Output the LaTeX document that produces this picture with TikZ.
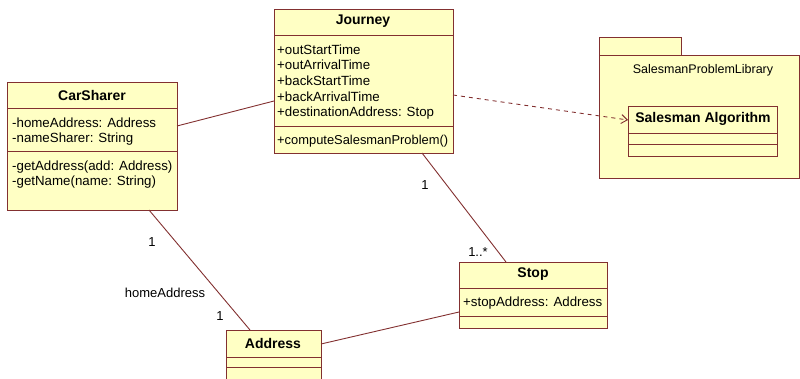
\documentclass[tikz,border=0pt]{standalone}
\usepackage{fontspec}
\setmainfont{Liberation Sans}
\usetikzlibrary{arrows.meta,calc}
\definecolor{umlfill}{RGB}{255,255,196}
\definecolor{umlline}{RGB}{130,48,48}
\begin{document}
\begin{tikzpicture}[x=1pt,y=-1pt,
 box/.style={draw=umlline, fill=umlfill, line width=0.9pt, inner sep=0pt, outer sep=0pt, anchor=north west},
 sep/.style={draw=umlline, line width=0.9pt},
 txt/.style={inner sep=0pt, anchor=north west, align=left, font=\fontsize{13.3}{15.6}\selectfont},
 ttl/.style={inner sep=0pt, font=\fontsize{14}{15.6}\selectfont\bfseries},
 lnk/.style={draw=umlline, line width=0.9pt},
 lbl/.style={inner sep=0pt, font=\fontsize{13}{15.6}\selectfont}]
\useasboundingbox (0,0) rectangle (800,379);
% CarSharer
\node[box, minimum width=170pt, minimum height=128pt] (car) at (7,82) {};
\draw[sep] (7,108) -- (177,108);
\draw[sep] (7,151) -- (177,151);
\node[ttl] (carT) at (92,95) {CarSharer};
\node[txt] (carA) at (12,117.5) {-homeAddress: Address\\-nameSharer: String};
\node[txt] (carO) at (12,160.5) {-getAddress(add: Address)\\-getName(name: String)};
% Journey
\node[box, minimum width=179pt, minimum height=144pt] (jour) at (274,9) {};
\draw[sep] (274,35) -- (453,35);
\draw[sep] (274,126) -- (453,126);
\node[ttl] (jourT) at (363,21) {Journey};
\node[txt] (jourA) at (277,44.5) {+outStartTime\\+outArrivalTime\\+backStartTime\\+backArrivalTime\\+destinationAddress: Stop};
\node[txt, font=\fontsize{12.9}{15.6}\selectfont] (jourO) at (277,134.5) {+computeSalesmanProblem()};
% Package
\node[box, minimum width=82pt, minimum height=18pt] (pkgtab) at (599,37) {};
\node[box, minimum width=200pt, minimum height=123pt] (pkg) at (599,55) {};
\node[lbl, font=\fontsize{12.5}{15}\selectfont] (pkgT) at (703,70) {SalesmanProblemLibrary};
\node[box, minimum width=149pt, minimum height=50pt] (sa) at (628,106) {};
\draw[sep] (628,133) -- (777,133);
\draw[sep] (628,144) -- (777,144);
\node[ttl] (saT) at (703,119) {Salesman Algorithm};
% Stop
\node[box, minimum width=148pt, minimum height=66pt] (stop) at (459,262) {};
\draw[sep] (459,288) -- (607,288);
\draw[sep] (459,316) -- (607,316);
\node[ttl] (stopT) at (533,274) {Stop};
\node[txt] (stopA) at (463,297) {+stopAddress: Address};
% Address
\node[box, minimum width=95pt, minimum height=70pt] (addr) at (226,330) {};
\draw[sep] (226,357) -- (321,357);
\draw[sep] (226,367) -- (321,367);
\node[ttl] (addrT) at (273,343) {Address};
% Connectors
\draw[lnk] ($(car.north east)+(0,44)$) -- ($(jour.north west)+(0,92)$);
\draw[lnk, dash pattern=on 4pt off 4pt, -{Straight Barb[length=6pt,width=9pt]}] ($(jour.north east)+(0,86)$) -- ($(sa.north west)+(0,14)$);
\draw[lnk] ($(jour.south west)+(148,0)$) -- ($(stop.north west)+(47,0)$);
\draw[lnk] ($(car.south west)+(142,0)$) -- ($(addr.north west)+(24,0)$);
\draw[lnk] ($(addr.north east)+(0,14)$) -- ($(stop.north west)+(0,50)$);
% Labels
\node[lbl] (l1) at (425,185) {1};
\node[lbl] (l2) at (478,252) {1..*};
\node[lbl] (l3) at (152,242) {1};
\node[lbl] (l4) at (165,293) {homeAddress};
\node[lbl] (l5) at (220,316) {1};
\end{tikzpicture}
\end{document}
